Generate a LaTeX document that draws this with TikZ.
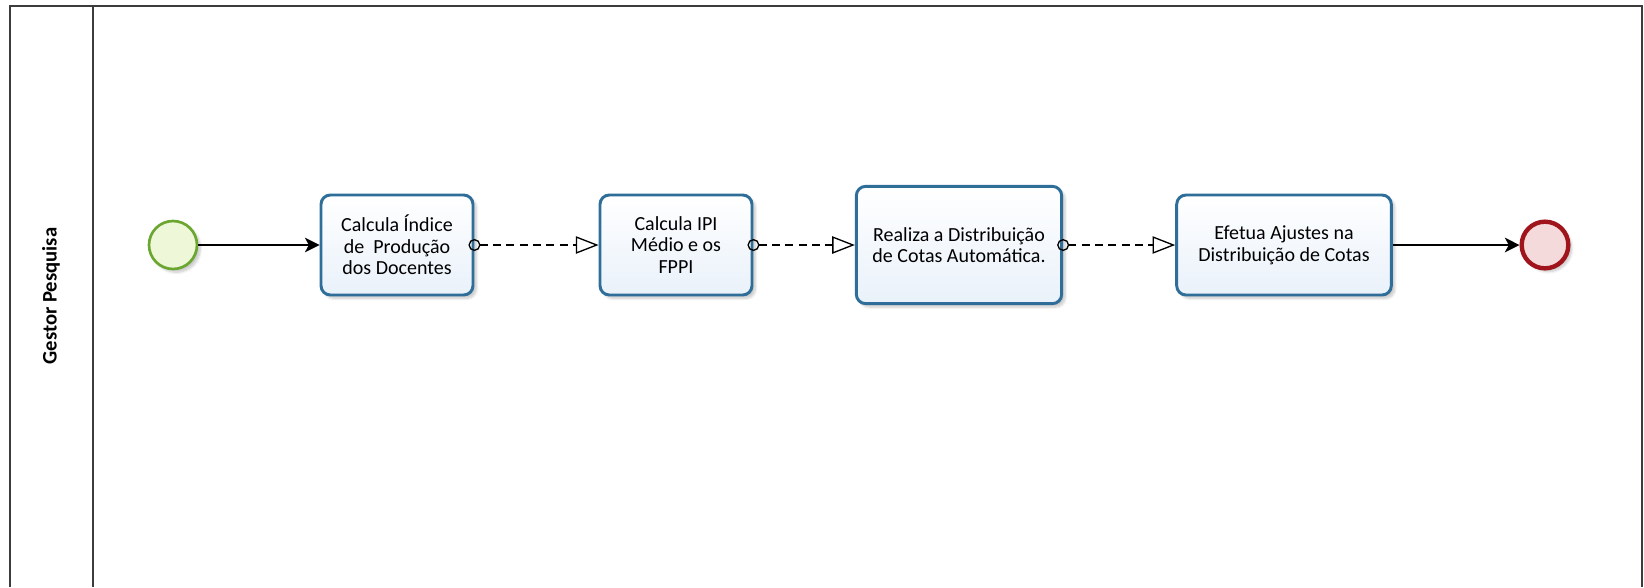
\documentclass[tikz,border=0pt]{standalone}
\usepackage{fontspec}
\setmainfont{Carlito}
\usetikzlibrary{arrows.meta,shadows.blur}
\definecolor{taskline}{HTML}{2E6E98}
\definecolor{taskfill}{HTML}{E9F1FA}
\definecolor{startline}{HTML}{6BA630}
\definecolor{startfill}{HTML}{EEF8D8}
\definecolor{endline}{HTML}{A0151B}
\definecolor{endfill}{HTML}{F5DADB}
\definecolor{laneline}{HTML}{3C3C3C}
\begin{document}
\begin{tikzpicture}[x=0.75pt,y=-0.75pt, every node/.style={font=\fontsize{15}{16.2}\selectfont}]
\tikzset{task/.style={draw=taskline,line width=2.2pt,rounded corners=7pt,top color=white,bottom color=taskfill,
    minimum width=114pt,minimum height=75pt,align=center,inner sep=2pt,
    blur shadow={shadow xshift=2.5pt,shadow yshift=-2.5pt,shadow blur steps=6,shadow opacity=22}},
  startev/.style={circle,draw=startline,line width=2pt,fill=startfill,minimum size=36pt,
    blur shadow={shadow xshift=2.5pt,shadow yshift=-2.5pt,shadow blur steps=6,shadow opacity=22}},
  endev/.style={circle,draw=endline,line width=3.3pt,fill=endfill,minimum size=35pt,
    blur shadow={shadow xshift=2.5pt,shadow yshift=-2.5pt,shadow blur steps=6,shadow opacity=22}},
  seqflow/.style={line width=1pt,-{Stealth[length=11pt,width=11pt,inset=3pt]}},
  msgflow/.style={line width=1pt,dash pattern=on 6pt off 4pt,shorten <=-4.5pt,
    {Circle[open,length=9pt,width=9pt,line width=1pt]}-{Triangle[open,length=17pt,width=13pt,line width=1pt]}},
  lane/.style={draw=laneline,line width=1.5pt}}
\useasboundingbox (0,0) rectangle (1644,587);
% pool and lane
\draw[lane] (10,587) -- (10,6) -- (1642,6) -- (1642,587);
\draw[lane] (93,6) -- (93,587);
\node[rotate=90,font=\fontsize{15.5}{17}\selectfont\bfseries] (gestor) at (51,296) {Gestor Pesquisa};
% events and tasks
\node[startev] (start) at (173,245) {};
\node[task] (indice) at (397,245) {Calcula Índice\\de~~Produção\\dos Docentes};
\node[task] (ipi) at (676,245) {Calcula IPI\\Médio e os\\FPPI};
\node[task,minimum width=154pt,minimum height=88pt] (cotas) at (959,245) {Realiza a Distribuição\\de Cotas Automática.};
\node[task,minimum width=161pt] (ajustes) at (1284,245) {Efetua Ajustes na\\Distribuição de Cotas};
\node[endev] (fim) at (1545,245) {};
% flows
\draw[seqflow] (start) -- (indice);
\draw[msgflow] (indice) -- (ipi);
\draw[msgflow] (ipi) -- (cotas);
\draw[msgflow] (cotas) -- (ajustes);
\draw[seqflow] (ajustes) -- (fim);
\end{tikzpicture}
\end{document}
